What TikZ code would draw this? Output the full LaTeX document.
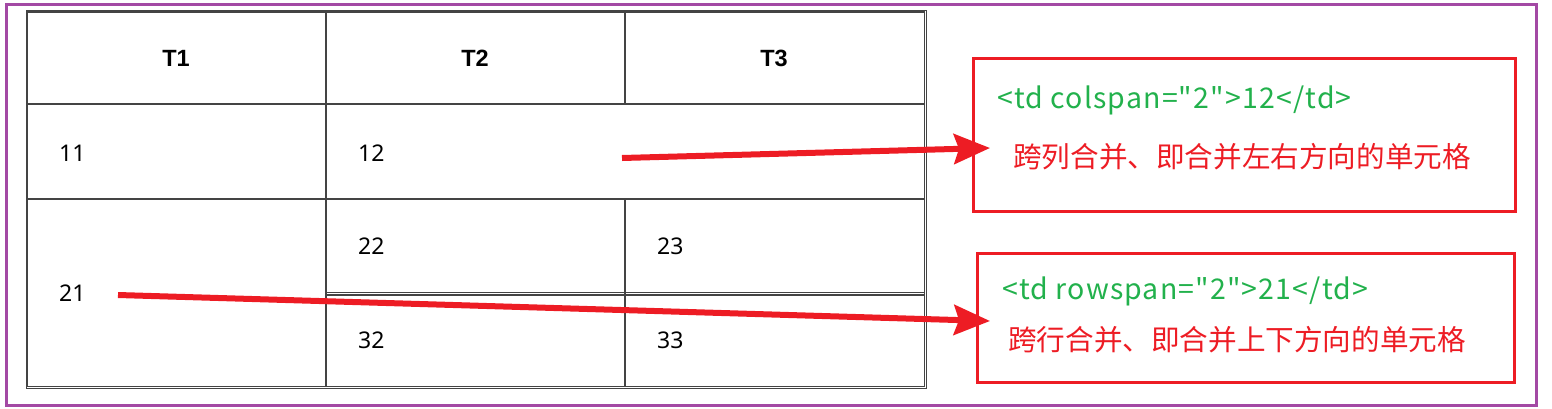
\documentclass[tikz,border=0pt]{standalone}
\usepackage{fontspec}
\setmainfont{Noto Sans}
\newfontfamily\hdfont{Liberation Sans}
\newfontfamily\cjk{Noto Sans CJK SC}
\newfontfamily\cjkwide[LetterSpace=4]{Noto Sans CJK SC}
\usetikzlibrary{arrows.meta}
\definecolor{framepurple}{HTML}{A349A4}
\definecolor{markred}{HTML}{ED1C24}
\definecolor{codegreen}{HTML}{22B14C}
\definecolor{gridgray}{HTML}{444444}
\begin{document}
\begin{tikzpicture}[x=1pt,y=-1pt,
  hdr/.style={font=\hdfont\bfseries\fontsize{23.5}{25}\selectfont, inner sep=0pt},
  num/.style={font=\fontsize{23}{25}\selectfont, inner sep=0pt, anchor=west},
  grid/.style={draw=gridgray, line width=1.6pt},
  redbox/.style={draw=markred, line width=3pt},
  codetxt/.style={font=\cjkwide\fontsize{28.5}{30}\selectfont, text=codegreen, inner sep=0pt, anchor=west},
  cntxt/.style={font=\cjk\fontsize{28.6}{30}\selectfont, text=markred, inner sep=0pt, anchor=west},
  bigarrow/.style={draw=markred, line width=6pt, -{Stealth[length=36pt,width=30pt,inset=5pt]}}
]
\useasboundingbox (0,0) rectangle (1552,408);
% purple frame
\draw[framepurple, line width=3pt] (6.5,4.5) rectangle (1536.5,405.5);
% table
\draw[draw=gridgray, line width=1pt] (26,10) rectangle (926,388);
\draw[grid] (27.5,11.8) rectangle (924.5,386.5);
\draw[grid] (27.5,104) -- (924.5,104);
\draw[grid] (27.5,199) -- (924.5,199);
\draw[draw=gridgray, line width=1.2pt] (326,292.5) -- (924.5,292.5);
\draw[draw=gridgray, line width=1.2pt] (326,295) -- (924.5,295);
\draw[grid] (326,11.8) -- (326,386.5);
\draw[grid] (625,11.8) -- (625,104);
\draw[grid] (625,199) -- (625,386.5);
% headers
\node[hdr] (t1) at (176,58) {T1};
\node[hdr] (t2) at (475,58) {T2};
\node[hdr] (t3) at (774,58) {T3};
% cells
\node[num] (c11) at (59,153) {11};
\node[num] (c12) at (358,153) {12};
\node[num] (c21) at (59,293) {21};
\node[num] (c22) at (358,246) {22};
\node[num] (c23) at (657,246) {23};
\node[num] (c32) at (358,340) {32};
\node[num] (c33) at (657,340) {33};
% red boxes
\node[redbox, minimum width=542pt, minimum height=153pt, anchor=north west, inner sep=0pt] (box1) at (972,57) {};
\node[redbox, minimum width=537pt, minimum height=129pt, anchor=north west, inner sep=0pt] (box2) at (976,252) {};
\node[codetxt] (code1) at (997,100) {<td colspan="2">12</td>};
\node[cntxt] (desc1) at (1013,157) {跨列合并、即合并左右方向的单元格};
\node[codetxt] (code2) at (1002,291) {<td rowspan="2">21</td>};
\node[cntxt] (desc2) at (1008,340) {跨行合并、即合并上下方向的单元格};
% arrows
\coordinate (a1s) at (622,158);
\coordinate (a1e) at (990,148);
\coordinate (a2s) at (118,295);
\coordinate (a2e) at (990,321);
\draw[bigarrow] (a1s) -- (a1e);
\draw[bigarrow] (a2s) -- (a2e);
\end{tikzpicture}
\end{document}
